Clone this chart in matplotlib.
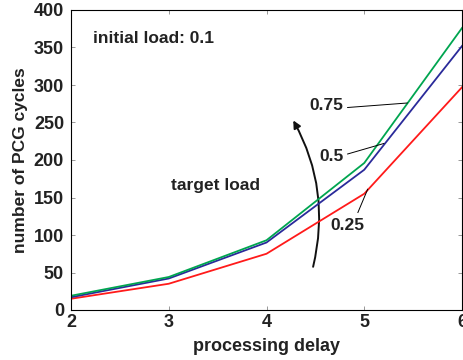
import matplotlib.pyplot as plt
from matplotlib.patches import FancyArrowPatch

delay = [2, 3, 4, 5, 6]
load_075 = [19, 44, 93, 196, 376]
load_05 = [17, 42, 90, 187, 352]
load_025 = [15, 35, 75, 155, 297]

plt.rcParams['font.family'] = ['Liberation Sans', 'DejaVu Sans']
plt.rcParams['font.weight'] = 'bold'
font = {'fontsize': 12.5, 'fontweight': 'bold', 'color': '#222222'}

fig = plt.figure(figsize=(4.63, 3.6), dpi=100)
ax = fig.add_axes([71/463, 50/360, 391/463, 300/360])

ax.plot(delay, load_025, color='#ff1a1a', lw=1.3)
ax.plot(delay, load_05, color='#2a2a9a', lw=1.3)
ax.plot(delay, load_075, color='#00a550', lw=1.3)

ax.set_xlim(2, 6)
ax.set_ylim(0, 400)
ax.set_xticks([2, 3, 4, 5, 6])
ax.set_yticks(range(0, 401, 50))
ax.tick_params(direction='in', length=3, width=0.6, color='#888888',
               top=True, right=True, labelsize=13, labelcolor='#222222', pad=3)
ax.tick_params(axis='y', pad=5)
for lab in ax.get_xticklabels() + ax.get_yticklabels():
    lab.set_fontweight('bold')
for s in ax.spines.values():
    s.set_linewidth(0.8)

ax.set_xlabel('processing delay', fontsize=13, fontweight='bold',
              color='#222222', labelpad=5)
ax.set_ylabel('number of PCG cycles', fontsize=12.5, fontweight='bold',
              color='#222222', labelpad=4)

ax.text(2.23, 362, 'initial load: 0.1', fontdict=font, va='center', ha='left')
ax.text(3.02, 166, 'target load', fontdict=font, va='center', ha='left')

# labels with leader lines
ax.text(4.79, 272, '0.75', fontdict=font, va='center', ha='right')
ax.plot([4.83, 5.44], [270, 276], color='black', lw=0.7)
ax.text(4.79, 205, '0.5', fontdict=font, va='center', ha='right')
ax.plot([4.83, 5.20], [208, 222], color='black', lw=0.7)
ax.text(4.83, 112, '0.25', fontdict=font, va='center', ha='center')
ax.plot([4.935, 5.035], [130, 161], color='black', lw=0.7)

arrow = FancyArrowPatch((4.47, 54), (4.26, 256), connectionstyle='arc3,rad=0.2',
                        arrowstyle='-|>', mutation_scale=11, lw=1.4, color='#111111')
ax.add_patch(arrow)

fig.savefig('out.png', dpi=100)
